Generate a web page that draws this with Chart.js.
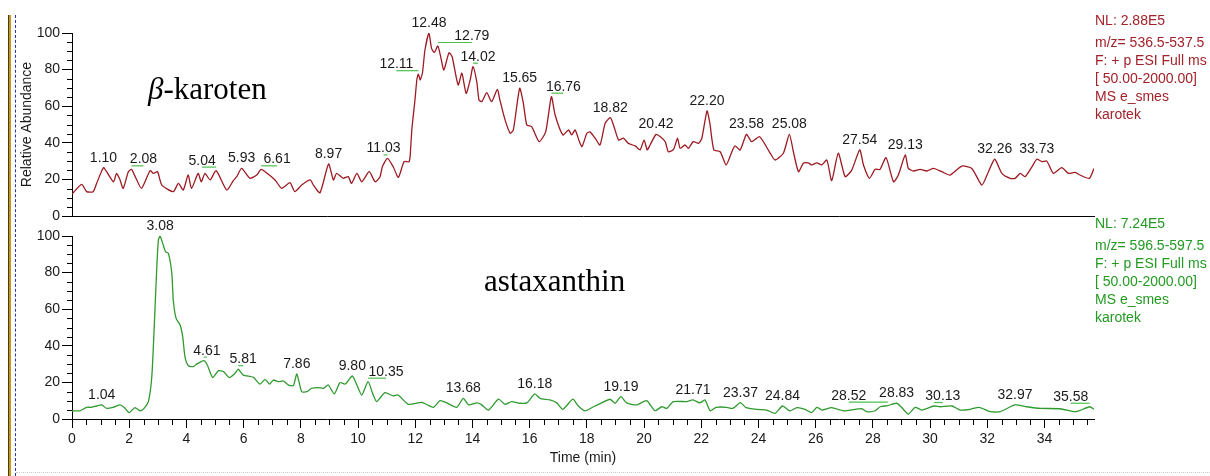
<!DOCTYPE html>
<html>
<head>
<meta charset="utf-8">
<title>Chromatogram</title>
<script src="https://cdn.jsdelivr.net/npm/chart.js@4.4.0/dist/chart.umd.min.js"></script>
<style>
  body { margin: 0; background: #fff; }
  #wrap { position: relative; width: 1210px; height: 476px; overflow: hidden; background: #fff; }
  #wrap canvas { position: absolute; left: 0; top: 0; }
  .rule-gold { position: absolute; left: 8px; top: 15px; bottom: 0; width: 2px; background: #c8951c; border-left: 1px solid #4a3a10; }
  .rule-blue { position: absolute; left: 15px; top: 15px; bottom: 0; border-left: 1px dashed #2a36a8; }
  .rule-base { position: absolute; left: 16px; right: 0; top: 472px; border-top: 1px dotted #c8c8c8; }
</style>
</head>
<body>
<div id="wrap">
  <div class="rule-gold"></div>
  <div class="rule-blue"></div>
  <div class="rule-base"></div>
  <canvas id="topPanel" width="1210" height="476"></canvas>
  <canvas id="bottomPanel" width="1210" height="476"></canvas>
</div>
<script>
// retention time axis (min) and relative abundance axis (%)
const timeMax = 35.73;
const timeTicks = [0, 2, 4, 6, 8, 10, 12, 14, 16, 18, 20, 22, 24, 26, 28, 30, 32, 34];
const abundanceTicks = [0, 20, 40, 60, 80, 100];

// β-karoten trace, m/z 536.5-537.5
const caroteneTime = [
  0.00, 0.34, 0.51, 0.74, 0.86, 1.10, 1.21, 1.45, 1.56, 1.68, 1.79, 1.97, 2.08, 2.21, 2.43, 2.73, 2.85, 2.99, 3.14, 3.54,
  3.72, 3.89, 4.06, 4.18, 4.41, 4.52, 4.65, 4.83, 5.04, 5.41, 5.64, 5.76, 5.93, 6.22, 6.46, 6.61, 6.75, 7.10, 7.33, 7.62,
  7.79, 8.03, 8.33, 8.44, 8.67, 8.97, 9.14, 9.25, 9.48, 9.66, 9.77, 9.96, 10.13, 10.39, 10.60, 10.77, 10.85, 11.03, 11.23, 11.41,
  11.61, 11.78, 11.82, 11.88, 11.99, 12.06, 12.11, 12.17, 12.25, 12.34, 12.48, 12.57, 12.67, 12.79, 12.89, 13.00, 13.18, 13.29, 13.50, 13.63,
  13.78, 13.92, 14.02, 14.15, 14.23, 14.33, 14.50, 14.67, 14.87, 14.96, 15.14, 15.32, 15.43, 15.65, 15.78, 15.90, 16.07, 16.33, 16.56, 16.76,
  16.89, 17.16, 17.36, 17.47, 17.59, 17.74, 17.83, 18.00, 18.11, 18.29, 18.46, 18.64, 18.82, 18.95, 19.11, 19.28, 19.45, 19.69, 19.86, 20.00,
  20.11, 20.21, 20.42, 20.57, 20.74, 20.85, 21.03, 21.17, 21.26, 21.43, 21.55, 21.72, 21.90, 22.02, 22.20, 22.30, 22.44, 22.66, 22.87, 23.07,
  23.18, 23.36, 23.58, 23.76, 24.04, 24.38, 24.58, 24.87, 25.08, 25.22, 25.40, 25.57, 25.74, 25.86, 26.04, 26.21, 26.39, 26.56, 26.79, 27.03,
  27.26, 27.54, 27.67, 27.88, 28.08, 28.25, 28.46, 28.72, 28.89, 29.13, 29.24, 29.42, 29.65, 29.88, 30.12, 30.41, 30.70, 31.11, 31.46, 31.81,
  32.04, 32.26, 32.51, 32.80, 32.97, 33.15, 33.32, 33.56, 33.73, 33.91, 34.08, 34.31, 34.60, 34.84, 35.07, 35.24, 35.57, 35.73
];
const caroteneAbundance = [
  12.0, 17.3, 13.3, 13.3, 17.8, 26.4, 24.2, 18.7, 23.3, 19.7, 15.1, 24.2, 25.5, 21.5, 15.1, 24.8, 23.3, 24.2, 16.9, 13.3,
  17.8, 14.2, 22.4, 15.1, 23.3, 18.7, 23.3, 19.7, 24.8, 14.2, 19.3, 21.5, 26.0, 20.6, 22.4, 25.5, 24.2, 19.7, 15.1, 18.2,
  13.3, 16.9, 19.7, 16.9, 12.7, 28.4, 19.7, 23.3, 20.6, 21.5, 17.8, 23.3, 18.7, 24.2, 18.7, 21.5, 26.9, 31.5, 26.9, 21.1,
  29.7, 29.7, 32.4, 47.0, 63.4, 75.0, 77.5, 74.3, 78.0, 90.7, 100.0, 91.6, 89.4, 92.9, 87.0, 79.8, 89.2, 87.0, 71.6, 78.0,
  67.0, 74.3, 81.6, 73.4, 63.4, 62.5, 67.4, 62.5, 69.2, 63.4, 52.5, 45.2, 47.0, 69.8, 61.6, 49.7, 48.8, 40.6, 46.0, 65.2,
  55.2, 44.3, 47.0, 44.3, 47.0, 40.6, 37.9, 45.2, 46.0, 42.5, 38.8, 50.7, 53.7, 48.8, 41.5, 42.5, 39.7, 38.3, 36.1, 41.5,
  36.1, 38.8, 44.6, 43.3, 40.6, 35.1, 36.4, 42.5, 37.0, 38.8, 37.0, 40.6, 39.7, 42.5, 57.4, 50.7, 36.1, 35.1, 27.9, 35.1,
  38.3, 36.1, 44.6, 40.6, 43.3, 35.1, 30.6, 34.3, 44.6, 35.1, 24.2, 28.8, 29.0, 27.9, 29.0, 27.9, 30.6, 19.3, 34.3, 21.5,
  25.1, 36.1, 27.9, 20.6, 25.5, 25.5, 31.9, 18.7, 22.4, 33.3, 26.0, 24.6, 25.5, 24.6, 26.0, 24.2, 22.4, 27.3, 26.0, 16.9,
  24.2, 31.0, 23.3, 20.6, 20.6, 23.3, 21.5, 26.9, 31.0, 29.7, 30.0, 23.3, 26.4, 23.3, 23.8, 22.4, 20.6, 26.0
];
const carotenePeaks = [1.10, 2.08, 5.04, 5.93, 6.61, 8.97, 11.03, 12.11, 12.48, 12.79, 14.02, 15.65, 16.76,
  18.82, 20.42, 22.20, 23.58, 25.08, 27.54, 29.13, 32.26, 33.73];

// astaxanthin trace, m/z 596.5-597.5
const astaxanthinTime = [
  0.00, 0.28, 0.51, 0.69, 0.86, 1.04, 1.21, 1.44, 1.68, 1.82, 2.00, 2.20, 2.38, 2.52, 2.67, 2.79, 2.87, 2.96, 3.02, 3.08,
  3.19, 3.27, 3.37, 3.49, 3.54, 3.64, 3.78, 3.87, 3.95, 4.07, 4.24, 4.36, 4.61, 4.73, 4.92, 5.12, 5.30, 5.50, 5.70, 5.81,
  5.99, 6.34, 6.57, 6.75, 6.90, 7.04, 7.21, 7.39, 7.56, 7.74, 7.86, 8.03, 8.21, 8.38, 8.62, 8.79, 8.96, 9.17, 9.37, 9.55,
  9.80, 9.96, 10.13, 10.35, 10.51, 10.65, 10.94, 11.23, 11.40, 11.76, 12.23, 12.63, 12.87, 13.10, 13.45, 13.68, 13.86, 14.15, 14.30, 14.56,
  14.91, 15.14, 15.37, 15.66, 15.90, 16.18, 16.36, 16.71, 16.95, 17.16, 17.51, 17.70, 17.94, 18.23, 18.52, 18.81, 18.99, 19.19, 19.39, 19.74,
  20.09, 20.38, 20.62, 20.80, 21.02, 21.49, 21.71, 21.95, 22.13, 22.31, 22.52, 22.89, 23.10, 23.37, 23.55, 23.94, 24.29, 24.58, 24.84, 25.10,
  25.34, 25.63, 25.86, 26.04, 26.22, 26.56, 26.97, 27.38, 27.61, 27.79, 28.08, 28.25, 28.52, 28.83, 29.00, 29.24, 29.48, 29.71, 30.13, 30.35,
  30.76, 31.05, 31.40, 31.72, 32.10, 32.45, 32.97, 33.38, 33.85, 34.55, 35.01, 35.20, 35.58, 35.73
];
const astaxanthinAbundance = [
  4.5, 4.5, 6.4, 6.4, 7.1, 7.7, 5.8, 6.4, 7.7, 6.4, 3.5, 6.2, 4.4, 5.8, 9.5, 23.1, 48.6, 81.4, 97.8, 100.0,
  95.0, 91.4, 90.5, 79.6, 65.0, 55.0, 51.4, 45.0, 34.0, 29.1, 28.6, 30.0, 31.9, 29.5, 22.6, 26.4, 25.9, 22.6, 25.0, 27.2,
  24.0, 22.8, 19.1, 21.7, 19.1, 21.3, 20.4, 20.8, 18.6, 18.2, 24.6, 14.9, 14.9, 16.8, 17.1, 16.8, 18.6, 13.7, 19.9, 19.1,
  23.5, 18.6, 13.1, 20.4, 14.0, 9.5, 14.4, 12.6, 13.1, 8.0, 9.1, 6.4, 10.0, 8.8, 6.4, 11.3, 7.7, 8.8, 8.0, 4.9,
  10.8, 8.0, 9.5, 8.6, 8.8, 13.7, 11.3, 10.4, 8.8, 5.3, 10.8, 7.1, 4.4, 6.7, 8.8, 10.8, 8.6, 12.2, 8.8, 7.7,
  10.0, 4.5, 6.7, 5.8, 9.5, 9.5, 10.4, 8.8, 10.4, 4.5, 6.4, 6.4, 5.8, 8.9, 6.4, 5.3, 4.9, 3.1, 7.1, 4.4,
  6.2, 5.3, 3.5, 6.4, 4.9, 6.2, 4.5, 5.3, 5.6, 4.0, 4.5, 6.7, 7.3, 8.6, 6.4, 2.7, 6.4, 4.9, 7.1, 6.7,
  7.1, 4.9, 5.3, 6.4, 4.0, 4.0, 7.7, 6.7, 5.8, 5.6, 4.0, 4.5, 6.7, 5.3
];
const astaxanthinPeaks = [1.04, 3.08, 4.61, 5.81, 7.86, 9.80, 10.35, 13.68, 16.18, 19.19, 21.71, 23.37,
  24.84, 28.52, 28.83, 30.13, 32.97, 35.58];

const sansFont = "'Liberation Sans', Arial, sans-serif";
const serifFont = "'Liberation Serif', 'Times New Roman', serif";

// short ticks between the labelled ones
const minorTicks = {
  id: 'minorTicks',
  afterDraw(chart, args, opts) {
    const { ctx } = chart;
    const xs = chart.scales.x;
    const ys = chart.scales.y;
    ctx.save();
    ctx.strokeStyle = '#000';
    ctx.lineWidth = 1;
    ctx.beginPath();
    for (let v = 5; v < 100; v += 5) {
      if (v % 20 === 0) continue;
      const py = Math.round(ys.getPixelForValue(v)) + 0.5;
      ctx.moveTo(ys.right - 5, py);
      ctx.lineTo(ys.right, py);
    }
    if (opts.timeAxis) {
      for (let v = 0.5; v <= timeMax; v += 0.5) {
        if (v % 2 === 0) continue;
        const px = Math.round(xs.getPixelForValue(v)) + 0.5;
        ctx.moveTo(px, xs.top);
        ctx.lineTo(px, xs.top + 6);
      }
    }
    ctx.stroke();
    ctx.restore();
  }
};

// retention time written above each peak, with a green leader when shifted sideways
const peakLabels = {
  id: 'peakLabels',
  afterDatasetsDraw(chart, args, opts) {
    const { ctx } = chart;
    const xs = chart.scales.x;
    const ys = chart.scales.y;
    const pts = chart.data.datasets[0].data;
    ctx.save();
    ctx.font = '14px ' + sansFont;
    ctx.textAlign = 'center';
    ctx.textBaseline = 'alphabetic';
    opts.times.forEach((t) => {
      const key = t.toFixed(2);
      const pt = pts.find((p) => Math.abs(p.x - t) < 0.005);
      const px = xs.getPixelForValue(t);
      const py = ys.getPixelForValue(pt.y);
      const dx = opts.shift[key] || 0;
      const base = py - 6;
      if (dx) {
        ctx.strokeStyle = '#4cc04c';
        ctx.lineWidth = 1.2;
        ctx.beginPath();
        ctx.moveTo(px, base + 2.5);
        ctx.lineTo(px + dx, base + 2.5);
        ctx.stroke();
      }
      ctx.fillStyle = '#1a1a1a';
      ctx.fillText(key, px + dx, base);
    });
    ctx.restore();
  }
};

// compound name in the plot and scan description at the right
const panelText = {
  id: 'panelText',
  afterDraw(chart, args, opts) {
    const { ctx, chartArea } = chart;
    ctx.save();
    ctx.textBaseline = 'alphabetic';
    ctx.textAlign = 'left';
    ctx.fillStyle = '#000';
    let x = chartArea.left + opts.nameX;
    const y = chartArea.top + opts.nameY;
    if (opts.greek) {
      ctx.font = 'italic 31px ' + serifFont;
      ctx.fillText(opts.greek, x, y);
      x += ctx.measureText(opts.greek).width;
    }
    ctx.font = '31px ' + serifFont;
    ctx.fillText(opts.name, x, y);

    ctx.font = '14px ' + sansFont;
    ctx.textBaseline = 'middle';
    ctx.fillStyle = opts.infoColor;
    opts.info.forEach((line, i) => {
      const ly = chartArea.top - 12 + (i === 0 ? 0 : 22 + 18 * (i - 1));
      ctx.fillText(line, chartArea.right + 1, ly);
    });
    ctx.restore();
  }
};

function makePanel(canvasId, p) {
  const points = p.time.map((t, i) => ({ x: t, y: p.values[i] }));
  return new Chart(document.getElementById(canvasId), {
    type: 'line',
    data: {
      datasets: [{
        data: points,
        borderColor: p.color,
        borderWidth: 1.3,
        pointRadius: 0,
        tension: 0.2,
        fill: false
      }]
    },
    options: {
      responsive: false,
      animation: false,
      events: [],
      layout: { padding: { left: 0, top: p.top, right: 116, bottom: p.bottom } },
      plugins: {
        legend: { display: false },
        tooltip: { enabled: false },
        minorTicks: { timeAxis: p.timeAxis },
        peakLabels: { times: p.peaks, shift: p.shift },
        panelText: p.text
      },
      scales: {
        x: {
          type: 'linear',
          min: 0,
          max: timeMax,
          afterBuildTicks: (s) => { s.ticks = timeTicks.map((v) => ({ value: v })); },
          afterFit: (s) => { s.height = p.timeAxis ? 52 : 0; },
          grid: { drawOnChartArea: false, drawTicks: p.timeAxis, tickLength: 9, tickColor: '#000', color: '#000' },
          border: { display: true, color: '#000', width: 1 },
          ticks: {
            display: p.timeAxis,
            autoSkip: false,
            maxRotation: 0,
            padding: 3,
            color: '#1a1a1a',
            font: { family: sansFont, size: 14 }
          },
          title: {
            display: p.timeAxis,
            text: 'Time (min)',
            color: '#1a1a1a',
            font: { family: sansFont, size: 14 },
            padding: { top: 0, bottom: 4 }
          }
        },
        y: {
          min: 0,
          max: 100,
          afterBuildTicks: (s) => { s.ticks = abundanceTicks.map((v) => ({ value: v })); },
          afterFit: (s) => { s.width = 72; },
          grid: { drawOnChartArea: false, tickLength: 10, tickColor: '#000' },
          border: { display: true, color: '#000', width: 1 },
          ticks: { padding: 2, color: '#1a1a1a', font: { family: sansFont, size: 14 } },
          title: {
            display: p.yTitle,
            text: 'Relative Abundance',
            color: '#1a1a1a',
            font: { family: sansFont, size: 14 },
            padding: { top: 19, bottom: 0 }
          }
        }
      }
    },
    plugins: [minorTicks, peakLabels, panelText]
  });
}

makePanel('topPanel', {
  time: caroteneTime,
  values: caroteneAbundance,
  peaks: carotenePeaks,
  shift: { '2.08': 12, '5.04': -14, '6.61': 16, '11.03': -4, '12.11': -22, '12.79': 34, '14.02': 5, '16.76': 12 },
  color: '#9c1a22',
  top: 33,
  bottom: 260,
  timeAxis: false,
  yTitle: true,
  text: {
    greek: 'β',
    name: '-karoten',
    nameX: 76,
    nameY: 66,
    infoColor: '#a3222a',
    info: ['NL: 2.88E5', 'm/z= 536.5-537.5', 'F: + p ESI Full ms', '[ 50.00-2000.00]', 'MS e_smes', 'karotek']
  }
});

makePanel('bottomPanel', {
  time: astaxanthinTime,
  values: astaxanthinAbundance,
  peaks: astaxanthinPeaks,
  shift: { '4.61': 3, '5.81': 5, '10.35': 18, '28.52': -39, '30.13': 9, '35.58': -19 },
  color: '#2f9a2f',
  top: 236,
  bottom: 5,
  timeAxis: true,
  yTitle: false,
  text: {
    greek: '',
    name: 'astaxanthin',
    nameX: 412,
    nameY: 55,
    infoColor: '#229a22',
    info: ['NL: 7.24E5', 'm/z= 596.5-597.5', 'F: + p ESI Full ms', '[ 50.00-2000.00]', 'MS e_smes', 'karotek']
  }
});
</script>
</body>
</html>
